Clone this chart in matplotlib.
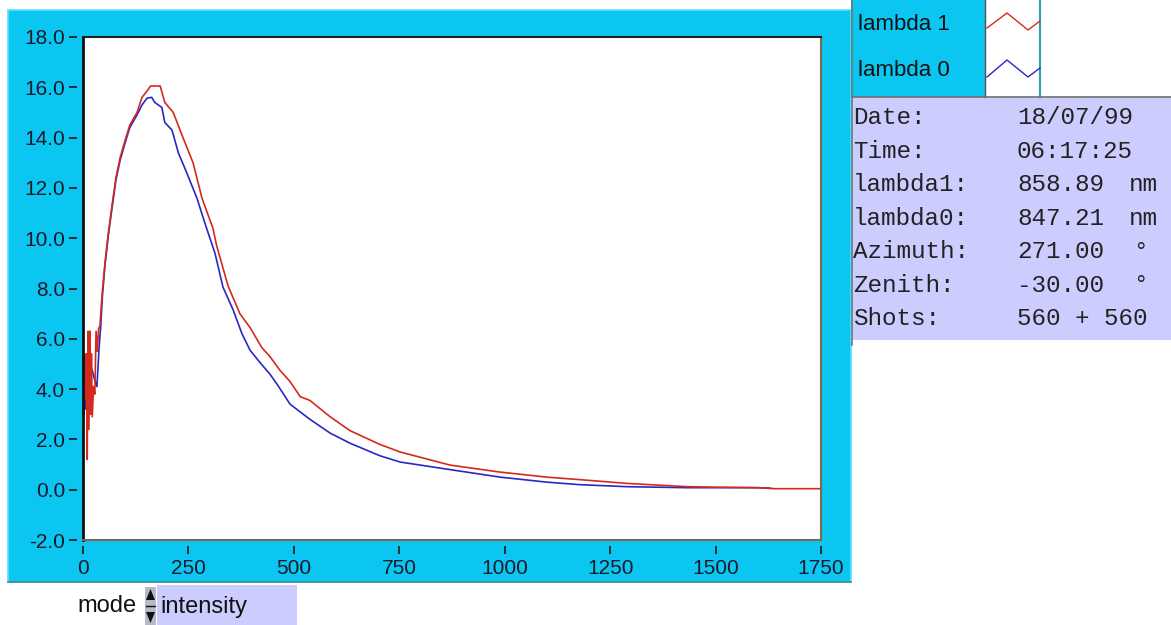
import numpy as np
import matplotlib
matplotlib.use("Agg")
import matplotlib.pyplot as plt
from matplotlib.patches import Rectangle, Polygon

# данні кривих
red_x = [0, 2, 4, 6, 8, 10, 12, 14, 16, 18, 20, 22, 25, 28, 31, 34, 37, 40, 45, 52,
         60, 68, 78, 88, 100, 111, 128, 140, 154, 160, 183, 194, 214, 237, 261, 282,
         308, 317, 344, 372, 396, 424, 443, 467, 491, 515, 538, 586, 633, 704, 752,
         870, 989, 1100, 1178, 1290, 1345, 1432, 1500, 1600, 1640, 1750]
red_y = [3.6, 2.9, 5.4, 3.6, 5.4, 1.2, 6.3, 2.4, 6.3, 3.0, 5.4, 2.9, 4.1, 3.8, 6.3, 5.5,
         6.4, 6.5, 7.7, 9.0, 10.2, 11.2, 12.4, 13.2, 13.9, 14.5, 15.0, 15.6, 15.9, 16.05,
         16.05, 15.4, 15.0, 14.0, 13.0, 11.6, 10.4, 9.7, 8.1, 7.0, 6.45, 5.65, 5.3, 4.75,
         4.3, 3.7, 3.55, 2.9, 2.35, 1.8, 1.5, 0.98, 0.7, 0.5, 0.4, 0.25, 0.2, 0.12, 0.1,
         0.08, 0.04, 0.04]

blue_x = [0, 5, 10, 15, 21, 27, 33, 38, 42, 46, 52, 60, 68, 78, 88, 100, 111, 128, 140,
          152, 163, 170, 187, 194, 211, 226, 246, 270, 289, 313, 332, 356, 377, 396, 420,
          443, 460, 491, 538, 586, 633, 704, 752, 870, 989, 1100, 1178, 1290, 1432, 1600,
          1630]
blue_y = [3.8, 3.2, 4.5, 3.9, 4.8, 4.4, 4.1, 5.6, 6.5, 7.7, 8.9, 10.1, 11.1, 12.3, 13.1,
          13.8, 14.4, 14.9, 15.3, 15.57, 15.6, 15.4, 15.2, 14.6, 14.3, 13.4, 12.6, 11.6,
          10.6, 9.4, 8.05, 7.15, 6.2, 5.55, 5.05, 4.6, 4.2, 3.4, 2.8, 2.25, 1.85, 1.35, 1.1,
          0.8, 0.5, 0.3, 0.2, 0.12, 0.08, 0.08, 0.06]

x_ticks = [0, 250, 500, 750, 1000, 1250, 1500, 1750]
y_ticks = [-2, 0, 2, 4, 6, 8, 10, 12, 14, 16, 18]

legend_names = ["lambda 1", "lambda 0"]

info_labels = ["Date:", "Time:", "lambda1:", "lambda0:", "Azimuth:", "Zenith:", "Shots:"]
info_values = ["18/07/99", "06:17:25", "858.89", "847.21", "271.00", "-30.00", "560 + 560"]
info_units = ["", "", "nm", "nm", "°", "°", ""]

mode_label = "mode"
mode_value = "intensity"

# кольори
CYAN = "#0cc6f2"
LAV = "#ccccff"
RED = "#d42a1e"
BLUE = "#2828c4"

W, H = 1171, 625
fig = plt.figure(figsize=(W / 100, H / 100), dpi=100)
fig.patch.set_facecolor("white")

# фонове полотно в пікселях
bg = fig.add_axes([0, 0, 1, 1])
bg.set_xlim(0, W)
bg.set_ylim(H, 0)
bg.axis("off")

bg.add_patch(Rectangle((8, 10), 843, 572, facecolor=CYAN, edgecolor="#5ae0ff", lw=1.2))
bg.plot([8, 851], [582, 582], color="#3a8a8a", lw=1.2)

# легенда
bg.add_patch(Rectangle((851, 0), 134, 97, facecolor=CYAN, edgecolor="none"))
bg.add_patch(Rectangle((985, 0), 55, 97, facecolor="white", edgecolor="none"))
bg.plot([852, 852], [0, 345], color="#6a7a7a", lw=1.2)
bg.plot([985, 985], [0, 97], color="#505050", lw=1.0)
bg.plot([1040, 1040], [0, 97], color="#2aa0b0", lw=1.5)
for i, name in enumerate(legend_names):
    yc = 25 + i * 45
    bg.text(858, yc, name, fontsize=16, family="Liberation Sans", va="center", ha="left",
            color="#111111")
bg.plot([987, 1007, 1028, 1040], [28, 13, 30, 21], color=RED, lw=1.0)
bg.plot([987, 1007, 1028, 1040], [77, 60, 77, 68], color=BLUE, lw=1.0)

# таблиця з параметрами
bg.add_patch(Rectangle((852, 97), 319, 243, facecolor=LAV, edgecolor="none"))
bg.plot([852, 1171], [97, 97], color="#707070", lw=1.2)
for i in range(len(info_labels)):
    yc = 118 + i * 33.4
    bg.text(853, yc, info_labels[i], fontsize=17.5, family="Liberation Mono", va="center",
            ha="left", color="#222222")
    bg.text(1017, yc, info_values[i], fontsize=17.5, family="Liberation Mono", va="center",
            ha="left", color="#222222")
    if info_units[i]:
        ux = 1129 if info_units[i] == "nm" else 1133
        bg.text(ux, yc, info_units[i], fontsize=17.5, family="Liberation Mono", va="center",
                ha="left", color="#222222")

# перемикач режиму
bg.text(77, 606, mode_label, fontsize=17, family="Liberation Sans", va="center", ha="left",
        color="#111111")
bg.add_patch(Rectangle((145, 587), 11, 38, facecolor="#b8b8c8", edgecolor="none"))
bg.add_patch(Polygon([[146, 600], [155, 600], [150.5, 589]], facecolor="#111111"))
bg.add_patch(Polygon([[146, 612], [155, 612], [150.5, 623]], facecolor="#111111"))
bg.plot([146, 155], [606, 606], color="#111111", lw=1)
bg.add_patch(Rectangle((157, 585), 140, 40, facecolor=LAV, edgecolor="none"))
bg.text(160, 607, mode_value, fontsize=17, family="Liberation Sans", va="center", ha="left",
        color="#111111")

# основний графік
L, R, T, B = 83, 821, 37, 540
ax = fig.add_axes([L / W, 1 - B / H, (R - L) / W, (B - T) / H])
ax.set_facecolor("white")
ax.plot(blue_x, blue_y, color=BLUE, lw=1.2)
ax.plot(red_x, red_y, color=RED, lw=1.2)
ax.set_xlim(0, 1750)
ax.set_ylim(-2, 18)
ax.set_xticks(x_ticks)
ax.set_yticks(y_ticks)
ax.set_xticklabels([str(v) for v in x_ticks])
ax.set_yticklabels(["%.1f" % v for v in y_ticks])

for s in ["left", "bottom"]:
    ax.spines[s].set_position(("outward", 4))
    ax.spines[s].set_visible(False)
ax.spines["top"].set_color("#202020")
ax.spines["top"].set_linewidth(1.5)
ax.spines["right"].set_color("#7a6a50")
ax.spines["right"].set_linewidth(1.5)
ax.plot([0, 0], [0, 1], transform=ax.transAxes, color="#101010", lw=2, clip_on=False)
ax.plot([0, 1], [0, 0], transform=ax.transAxes, color="#7a6a50", lw=1.5, clip_on=False)

ax.tick_params(axis="both", direction="out", length=6, width=1.3, color="#202020",
               labelsize=15, labelcolor="#1a1a2a")
ax.tick_params(axis="y", pad=3)
ax.tick_params(axis="x", pad=4)
for lab in ax.get_xticklabels() + ax.get_yticklabels():
    lab.set_family("Liberation Sans")

fig.savefig("out.png", dpi=100)
